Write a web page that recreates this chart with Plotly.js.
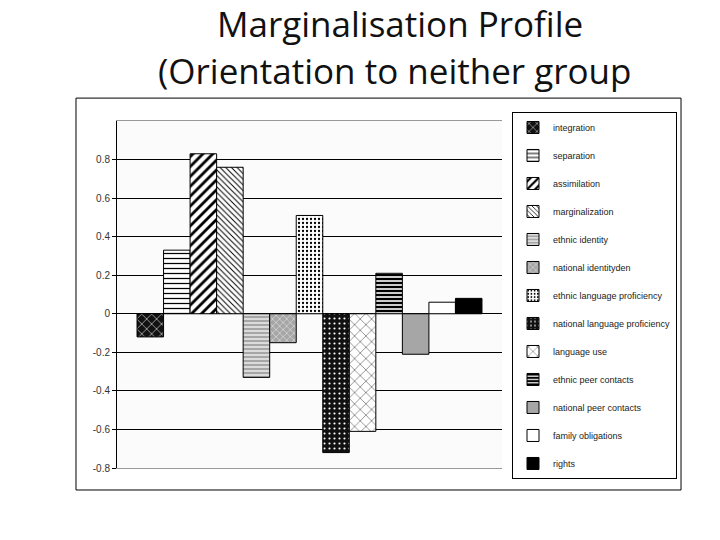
<!DOCTYPE html>
<html>
<head>
<meta charset="utf-8">
<script src="https://cdn.plot.ly/plotly-3.0.1.min.js"></script>
<style>
  body { margin: 0; background: #fff; }
  #chart { width: 720px; height: 540px; }
</style>
</head>
<body>
<div id="chart"></div>
<script>
// measures, in legend order
var measures = [
    "integration", "separation", "assimilation", "marginalization",
    "ethnic identity", "national identityden", "ethnic language proficiency",
    "national language proficiency", "language use", "ethnic peer contacts",
    "national peer contacts", "family obligations", "rights"
];
var scores = [-0.12, 0.33, 0.83, 0.76, -0.33, -0.15, 0.51, -0.72, -0.61, 0.21, -0.21, 0.06, 0.08];
var tickValues = [-0.8, -0.6, -0.4, -0.2, 0, 0.2, 0.4, 0.6, 0.8];
var tickLabels = ["-0.8", "-0.6", "-0.4", "-0.2", "0", "0.2", "0.4", "0.6", "0.8"];
var titleLines = ["Marginalisation Profile", "(Orientation to neither group"];

// fill styles that imitate the old black and white hatching
var GREY = "#a6a6a6";
var fills = [
    { bg: "#111", fg: "#fff", shape: "x", size: 7, solid: 0.15 },
    { bg: "#fff", fg: "#000", shape: "-", size: 5, solid: 0.25 },
    { bg: "#fff", fg: "#000", shape: "/", size: 7, solid: 0.4 },
    { bg: "#fff", fg: "#000", shape: "\\", size: 4, solid: 0.25 },
    { bg: GREY, fg: "#fff", shape: "-", size: 4, solid: 0.3 },
    { bg: GREY, fg: "#ddd", shape: "x", size: 5, solid: 0.25 },
    { bg: "#fff", fg: "#000", shape: ".", size: 4, solid: 0.25 },
    { bg: "#111", fg: "#fff", shape: ".", size: 5, solid: 0.15 },
    { bg: "#fff", fg: "#000", shape: "x", size: 8, solid: 0.1 },
    { bg: "#fff", fg: "#000", shape: "-", size: 4, solid: 0.6 },
    { bg: GREY, fg: GREY, shape: "", size: 4, solid: 0.3 },
    { bg: "#fff", fg: "#fff", shape: "", size: 4, solid: 0.3 },
    { bg: "#000", fg: "#000", shape: "", size: 4, solid: 0.3 }
];

var data = measures.map(function (name, i) {
    var f = fills[i];
    return {
        type: "bar",
        name: name,
        x: [0],
        y: [scores[i]],
        legendgroup: "g" + i,
        marker: {
            color: f.bg,
            line: { color: "#000", width: 1 },
            pattern: {
                shape: f.shape,
                bgcolor: f.bg,
                fgcolor: f.fg,
                fgopacity: 1,
                size: f.size,
                solidity: f.solid,
                fillmode: "replace"
            }
        },
        hoverinfo: "name+y"
    };
});

var titleFont = { family: "Open Sans, sans-serif", size: 35, color: "#111" };

var layout = {
    width: 720,
    height: 540,
    paper_bgcolor: "#fff",
    plot_bgcolor: "#fbfbfb",
    margin: { l: 117, r: 218, t: 121, b: 72 },
    barmode: "group",
    bargap: 0.104,
    bargroupgap: 0,
    font: { family: "Liberation Sans, Arial, sans-serif", size: 10, color: "#222" },
    xaxis: {
        range: [-0.5, 0.5],
        showticklabels: false,
        showgrid: false,
        zeroline: false,
        showline: true,
        linecolor: "#999",
        mirror: true,
        fixedrange: true
    },
    yaxis: {
        range: [-0.8, 1.0],
        tickvals: tickValues,
        ticktext: tickLabels,
        ticks: "outside",
        ticklen: 4,
        tickcolor: "#000",
        showgrid: true,
        gridcolor: "#000",
        gridwidth: 1,
        zeroline: true,
        zerolinecolor: "#000",
        zerolinewidth: 1,
        showline: true,
        linecolor: "#000",
        tickfont: { size: 10, color: "#333" },
        fixedrange: true
    },
    legend: {
        x: 1.026,
        xanchor: "left",
        y: 1.026,
        yanchor: "top",
        bgcolor: "#fff",
        bordercolor: "#000",
        borderwidth: 1,
        tracegroupgap: 9,
        maxheight: 400,
        font: { size: 9, color: "#222" },
        itemclick: false
    },
    annotations: [
        {
            text: titleLines[0],
            xref: "paper", yref: "paper",
            x: 0.735, y: 1.28,
            xanchor: "center", yanchor: "middle",
            showarrow: false,
            font: titleFont
        },
        {
            text: titleLines[1],
            xref: "paper", yref: "paper",
            x: 0.722, y: 1.145,
            xanchor: "center", yanchor: "middle",
            showarrow: false,
            font: titleFont
        }
    ],
    shapes: [
        {
            type: "rect",
            xref: "paper",
            yref: "paper",
            x0: -0.1065,
            x1: 1.465,
            y0: -0.0634,
            y1: 1.066,
            line: { color: "#000", width: 1 },
            fillcolor: "rgba(0,0,0,0)"
        }
    ]
};

Plotly.newPlot("chart", data, layout, { displayModeBar: false, staticPlot: true });
</script>
</body>
</html>
